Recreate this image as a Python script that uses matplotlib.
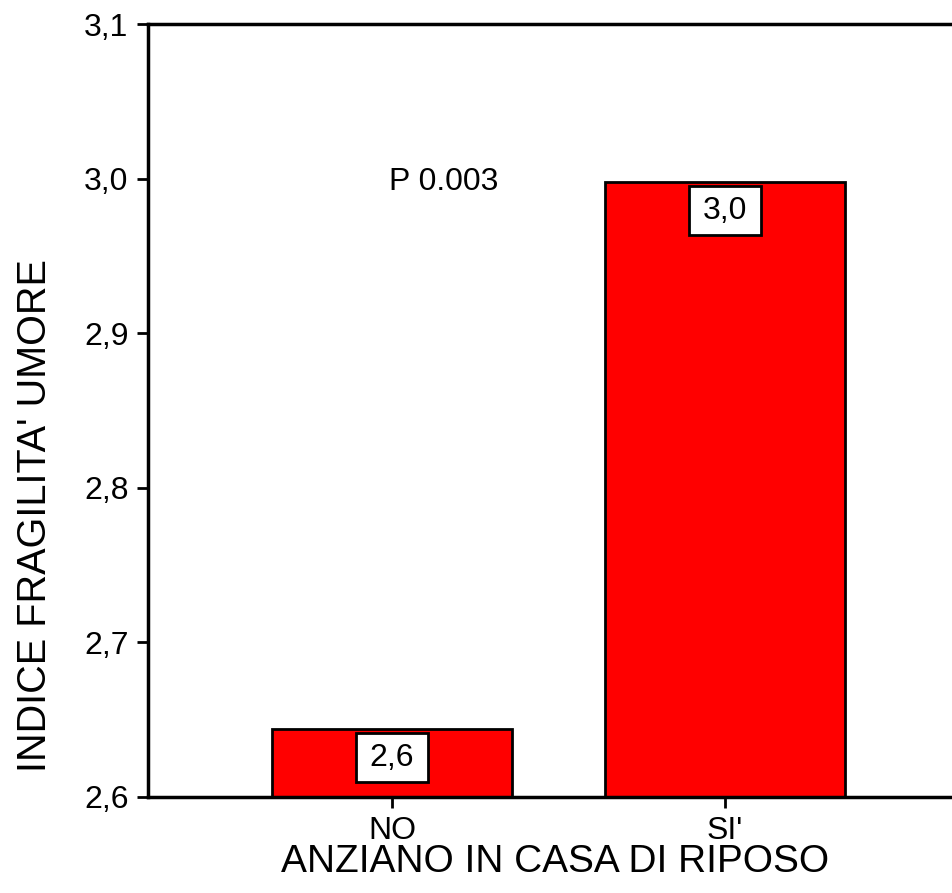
import matplotlib.pyplot as plt
from matplotlib.path import Path

plt.rcParams['font.family'] = ['Liberation Sans', 'DejaVu Sans']

categorie = ["NO", "SI'"]
valori = [2.644, 2.998]
etichette = ["2,6", "3,0"]
yticks = [2.6, 2.7, 2.8, 2.9, 3.0, 3.1]
ytick_labels = ["2,6", "2,7", "2,8", "2,9", "3,0", "3,1"]


def box_largo(x0, y0, width, height, mutation_size):
    # riquadro con margine orizzontale piu' ampio di quello verticale
    px = 0.44 * mutation_size
    py = 0.3 * mutation_size
    x0, y0 = x0 - px, y0 - py
    x1, y1 = x0 + width + 2 * px, y0 + height + 2 * py
    return Path([(x0, y0), (x1, y0), (x1, y1), (x0, y1), (x0, y0)], closed=True)


fig = plt.figure(figsize=(9.53, 8.93), dpi=100)
ax = fig.add_axes([148/953, 1 - 797/893, 1 - 148/953, (797 - 24)/893])

pos = range(len(categorie))
ax.bar(pos, [v - 2.6 for v in valori], bottom=2.6, width=0.72,
       color='#ff0000', edgecolor='black', linewidth=2, zorder=2)

for x, v, lab in zip(pos, valori, etichette):
    ax.annotate(lab, xy=(x, v), xytext=(0, -10), textcoords='offset points',
                ha='center', va='top', fontsize=23,
                bbox=dict(boxstyle=box_largo, fc='white', ec='black', lw=2),
                zorder=3)

ax.text(0.155, 2.998, "P 0.003", ha='center', va='center', fontsize=23)

ax.set_xlim(-0.733, 1.685)
ax.set_ylim(2.6, 3.1)
ax.set_xticks(list(pos))
ax.set_xticklabels(categorie)
ax.set_yticks(yticks)
ax.set_yticklabels(ytick_labels)
ax.tick_params(axis='both', labelsize=23, width=2, length=8, pad=6, color='black')

for s in ['left', 'bottom', 'top']:
    ax.spines[s].set_linewidth(2.5)
ax.spines['right'].set_visible(False)

fig.text(555/953, 1 - 862/893, "ANZIANO IN CASA DI RIPOSO", ha='center', va='center', fontsize=28)
fig.text(35/953, 1 - 516/893, "INDICE FRAGILITA' UMORE", ha='center', va='center',
         rotation=90, fontsize=28.5)

fig.savefig("out.png", dpi=100)
